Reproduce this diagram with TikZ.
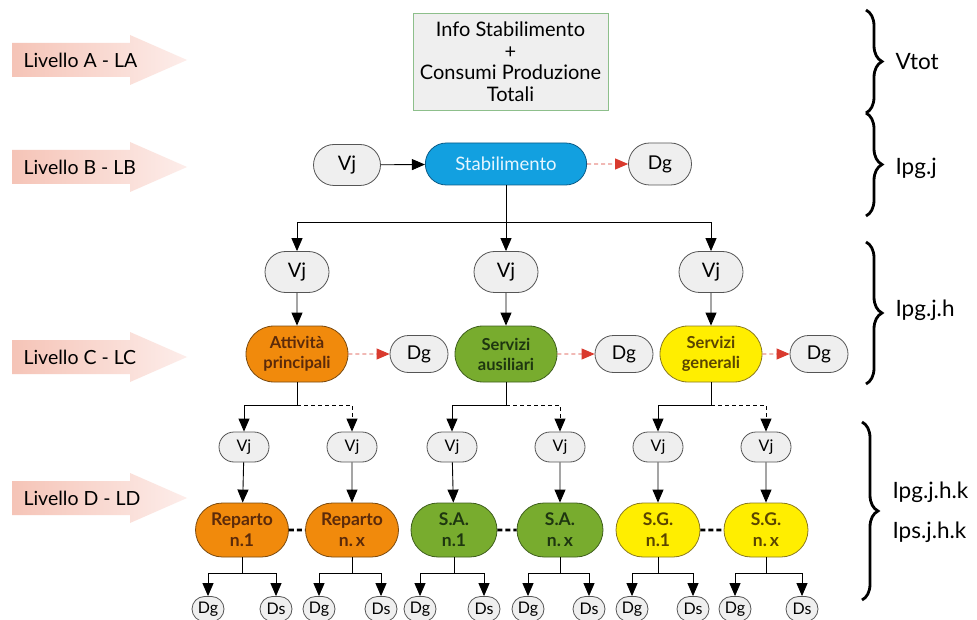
\documentclass[tikz,border=0pt]{standalone}
\usepackage{fontspec}
\setmainfont{Lato}
\usetikzlibrary{arrows.meta,shapes.misc,decorations.pathreplacing}
\definecolor{grayfill}{HTML}{EFEFEF}
\definecolor{grayline}{HTML}{555555}
\definecolor{boxline}{HTML}{8DBF8B}
\definecolor{bluefill}{HTML}{12A0E0}
\definecolor{blueline}{HTML}{0B5B87}
\definecolor{bluetext}{HTML}{E6F6FF}
\definecolor{orfill}{HTML}{F18A0C}
\definecolor{orline}{HTML}{7A4A10}
\definecolor{ortext}{HTML}{5B2A0A}
\definecolor{grfill}{HTML}{78AC2E}
\definecolor{grline}{HTML}{3F5F1D}
\definecolor{grtext}{HTML}{1E3610}
\definecolor{yefill}{HTML}{FFEE00}
\definecolor{yeline}{HTML}{8A7A20}
\definecolor{yetext}{HTML}{5A4500}
\definecolor{pinkL}{HTML}{F5C4B7}
\definecolor{pinkR}{HTML}{FDEDEA}
\definecolor{redarr}{HTML}{D93A2E}
\begin{document}
\begin{tikzpicture}[x=1pt,y=-1pt,
  fs/.style={font=\fontsize{#1}{#1}\selectfont},
  pill/.style={rounded rectangle,draw=grayline,fill=grayfill,line width=0.8pt,inner sep=0pt},
  vjbig/.style={pill,minimum width=64pt,minimum height=41pt,fs=20},
  vjsmall/.style={pill,minimum width=50pt,minimum height=30pt,fs=16},
  dgmid/.style={pill,minimum width=58pt,minimum height=37pt,fs=19},
  dgsmall/.style={pill,minimum width=32pt,minimum height=25pt,fs=16},
  mainC/.style={rounded rectangle,line width=0.8pt,inner sep=0pt,minimum width=102pt,minimum height=56pt,align=center,font=\fontsize{16.5}{20}\selectfont\bfseries},
  mainD/.style={rounded rectangle,line width=0.8pt,inner sep=0pt,minimum width=90pt,minimum height=54pt,align=center,font=\fontsize{17.5}{21}\selectfont\bfseries},
  orn/.style={fill=orfill,draw=orline,text=ortext},
  grn/.style={fill=grfill,draw=grline,text=grtext},
  yen/.style={fill=yefill,draw=yeline,text=yetext},
  arr/.style={draw=black,line width=0.9pt,-{Triangle[length=13pt,width=11pt]}},
  ln/.style={draw=black,line width=0.9pt},
  redd/.style={draw=redarr,line width=0.9pt,dash pattern=on 4pt off 3pt,-{Triangle[length=13pt,width=11pt]}},
  thickdash/.style={draw=black,line width=2.8pt,dash pattern=on 5pt off 3pt},
  lvl/.style={fs=19.5,anchor=west},
  rtxt/.style={fs=22.5,anchor=west},
  brc/.style={decorate,decoration={brace,amplitude=16pt},line width=2.8pt}
]
\useasboundingbox (0,0) rectangle (977,620);
\fill[white] (0,0) rectangle (977,620);

% level arrows
\foreach \yy/\nm/\lab in {60/la/{Livello A - LA},167/lb/{Livello B - LB},357/lc/{Livello C - LC},498/ld/{Livello D - LD}}{
  \shade[left color=pinkL,right color=pinkR]
    (12,\yy-17) -- (130,\yy-17) -- (130,\yy-25) -- (187,\yy) -- (130,\yy+25) -- (130,\yy+17) -- (12,\yy+17) -- cycle;
  \node[lvl] (\nm) at (20,\yy) {\lab};
}

% level A
\node[draw=boxline,fill=grayfill,line width=0.9pt,minimum width=195pt,minimum height=97pt,align=center,
      font=\fontsize{20}{21.5}\selectfont] (info) at (510.5,61.5)
      {Info Stabilimento\\+\\Consumi Produzione\\Totali};

% level B
\node[vjbig,minimum width=67pt] (vjB) at (347,165) {Vj};
\node[rounded rectangle,fill=bluefill,draw=blueline,line width=0.8pt,text=bluetext,
      minimum width=168pt,minimum height=42pt,fs=18.5] (stab) at (506,164) {Stabilimento};
\node[dgmid,minimum width=63pt,minimum height=42pt] (dgB) at (660,164) {Dg};
\draw[arr] (vjB) -- (stab);
\draw[redd] (stab) -- (dgB);

% level C
\coordinate (busB) at (506,222);
\node[vjbig] (vjC1) at (297,272) {Vj};
\node[vjbig] (vjC2) at (506,272) {Vj};
\node[vjbig] (vjC3) at (711,272) {Vj};
\draw[ln] (stab.south) -- (busB);
\draw[arr] (busB) -| (vjC1.north);
\draw[arr] (busB) -- (vjC2.north);
\draw[arr] (busB) -| (vjC3.north);

\node[mainC,orn] (att) at (297,354) {Attività\\principali};
\node[mainC,grn] (sau) at (506,354) {Servizi\\ausiliari};
\node[mainC,yen] (sge) at (711,354) {Servizi\\generali};
\node[dgmid] (dgC1) at (419,354) {Dg};
\node[dgmid] (dgC2) at (624,354) {Dg};
\node[dgmid] (dgC3) at (819,354) {Dg};
\draw[arr] (vjC1) -- (att);
\draw[arr] (vjC2) -- (sau);
\draw[arr] (vjC3) -- (sge);
\draw[redd] (att) -- (dgC1);
\draw[redd] (sau) -- (dgC2);
\draw[redd] (sge) -- (dgC3);

% level D
\foreach \nm/\xx in {d1/244,d2/352,d3/452,d4/560,d5/658,d6/766}{
  \node[vjsmall] (vj\nm) at (\xx,447) {Vj};
}
\node[mainD,orn,minimum width=93pt] (rep1) at (242,530) {Reparto\\n.1};
\node[mainD,orn,minimum width=93pt] (rep2) at (352,530) {Reparto\\n.\,x};
\node[mainD,grn,minimum width=86pt] (sa1) at (454,530) {S.A.\\n.1};
\node[mainD,grn,minimum width=86pt] (sa2) at (560,530) {S.A.\\n.\,x};
\node[mainD,yen,minimum width=84pt] (sg1) at (658,530) {S.G.\\n.1};
\node[mainD,yen,minimum width=84pt] (sg2) at (766,530) {S.G.\\n.\,x};

\foreach \pa/\cx/\l/\r in {att/297/d1/d2,sau/506/d3/d4,sge/711/d5/d6}{
  \coordinate (b\pa) at (\cx,405);
  \draw[ln] (\pa.south) -- (b\pa);
  \draw[arr] (b\pa) -| (vj\l.north);
  \draw[arr,dash pattern=on 4pt off 3pt] (b\pa) -| (vj\r.north);
}
\draw[arr] (vjd1) -- (rep1);
\draw[arr] (vjd2) -- (rep2);
\draw[arr] (vjd3) -- (sa1);
\draw[arr] (vjd4) -- (sa2);
\draw[arr] (vjd5) -- (sg1);
\draw[arr] (vjd6) -- (sg2);
\draw[thickdash] (rep1) -- (rep2);
\draw[thickdash] (sa1) -- (sa2);
\draw[thickdash] (sg1) -- (sg2);

% bottom outputs
\foreach \pa/\cx/\g/\s/\k in {rep1/242/208/276/1,rep2/352/319/381/2,sa1/454/420/484/3,sa2/560/528/589/4,sg1/658/632/693/5,sg2/766/735/802/6}{
  \node[dgsmall] (g\k) at (\g,609) {Dg};
  \node[dgsmall] (s\k) at (\s,609) {Ds};
  \coordinate (o\k) at (\cx,573);
  \draw[ln] (\pa.south) -- (o\k);
  \draw[arr] (o\k) -| (g\k.north);
  \draw[arr] (o\k) -| (s\k.north);
}

% braces
\draw[brc] (866,10) -- (866,113);
\draw[brc] (866,113) -- (866,216);
\draw[brc] (866,242) -- (866,384);
\draw[brc] (862,422) -- (862,600);
\node[rtxt] (t1) at (892,62) {Vtot};
\node[rtxt] (t2) at (892,168) {Ipg.j};
\node[rtxt] (t3) at (892,310) {Ipg.j.h};
\node[rtxt] (t4) at (889,492) {Ipg.j.h.k};
\node[rtxt] (t5) at (889,532) {Ips.j.h.k};
\end{tikzpicture}
\end{document}
